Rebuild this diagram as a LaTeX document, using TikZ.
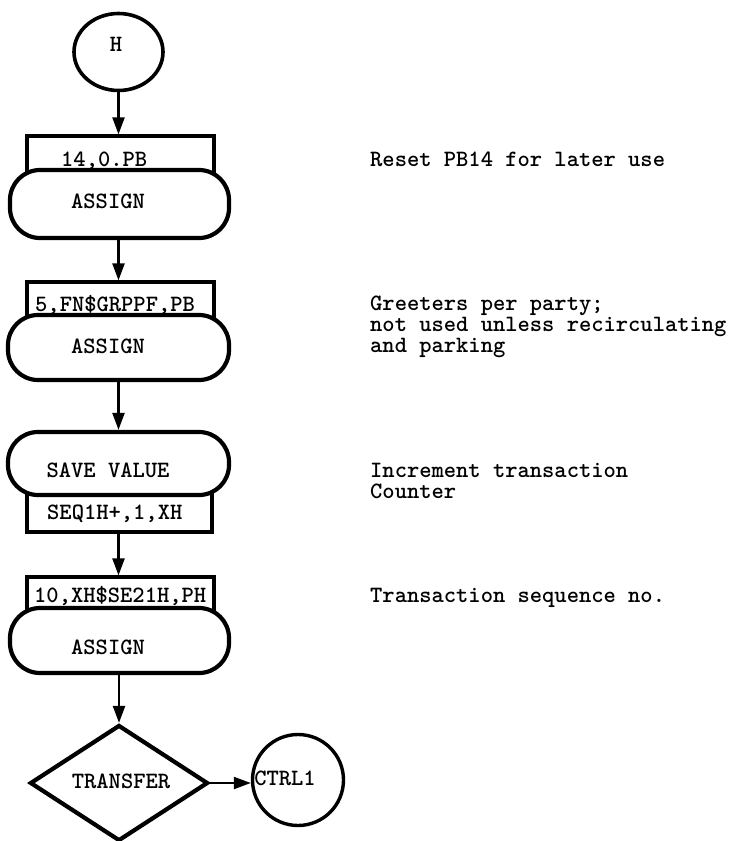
\documentclass[tikz,border=0pt]{standalone}
\usepackage{fontspec}
\usetikzlibrary{shapes.geometric,arrows.meta}
\newcommand{\notelines}[1]{\vtop{\lineskiplimit=-100pt\baselineskip=21pt\halign{##\hfil\cr#1\crcr}}}
\begin{document}
\begin{tikzpicture}[x=1pt,y=-1pt,
  shp/.style={draw=black,line width=3.2pt,fill=white,inner sep=0pt},
  parbox/.style={shp,rectangle},
  blockbox/.style={shp,rectangle,rounded corners=30pt,line width=4.2pt},
  conn/.style={line width=2.2pt,-{Triangle[length=17pt,width=12pt]}},
  tfont/.style={font=\ttfamily\bfseries\fontsize{23.4}{21}\selectfont},
  txt/.style={inner sep=0pt,text height=13pt,text depth=3pt,tfont},
  note/.style={inner sep=0pt,tfont,anchor=base west}]
\useasboundingbox (0,0) rectangle (737,841);

% start circle
\node[shp,ellipse,minimum width=89pt,minimum height=77pt,line width=3.6pt] (H) at (118.5,52) {};
\node[txt,anchor=base] (Ht) at (116,51) {H};

% ASSIGN 1
\node[parbox,minimum width=187pt,minimum height=54pt] (b1) at (120.5,163) {};
\node[txt,anchor=base west] (b1t) at (61,166) {14,0.PB};
\node[blockbox,minimum width=219pt,minimum height=68pt] (a1) at (119.5,204) {};
\node[txt,anchor=base] (a1t) at (108,208) {ASSIGN};

% ASSIGN 2
\node[parbox,minimum width=187pt,minimum height=53pt] (b2) at (120.5,308.5) {};
\node[txt,anchor=base west] (b2t) at (35,311) {5,FN\$GRPPF,PB};
\node[blockbox,minimum width=221pt,minimum height=65pt] (a2) at (118.5,347.5) {};
\node[txt,anchor=base] (a2t) at (108,353) {ASSIGN};

% SAVE VALUE
\node[parbox,minimum width=185pt,minimum height=52pt] (b3) at (119.5,506) {};
\node[txt,anchor=base west] (b3t) at (47,519) {SEQ1H+,1,XH};
\node[blockbox,minimum width=221pt,minimum height=63pt] (sv) at (118.5,463.5) {};
\node[txt,anchor=base] (svt) at (108,477) {SAVE VALUE};

% ASSIGN 3
\node[parbox,minimum width=187pt,minimum height=53pt] (b4) at (120.5,603.5) {};
\node[txt,anchor=base west] (b4t) at (34,602) {10,XH\$SE21H,PH};
\node[blockbox,minimum width=219pt,minimum height=65pt] (a3) at (119.5,640.5) {};
\node[txt,anchor=base] (a3t) at (108,654) {ASSIGN};

% TRANSFER
\node[shp,diamond,minimum width=178pt,minimum height=116pt,line width=4.2pt] (tr) at (119,783) {};
\node[txt,anchor=base] (trt) at (121,788) {TRANSFER};

% CTRL1
\node[shp,circle,line width=3.4pt,minimum size=91pt,fill=none] (c1) at (298,780) {};
\node[txt,anchor=base] (c1t) at (285,785) {CTRL1};

% connectors
\draw[conn] (H.south) -- (H.south |- b1.north);
\draw[conn] (a1.south -| H.south) -- (H.south |- b2.north);
\draw[conn] (a2.south -| H.south) -- (H.south |- sv.north);
\draw[conn] (b3.south -| H.south) -- (H.south |- b4.north);
\draw[conn] (a3.south -| tr.north) -- (tr.north);
\draw[conn] (tr.east) -- (c1.west |- tr.east);

% notes
\node[note] (n1) at (370,166) {Reset PB14 for later use};
\node[note] (n2) at (370,310) {\notelines{Greeters per party;\cr not used unless recirculating\cr and parking}};
\node[note] (n5) at (370,477) {\notelines{Increment transaction\cr Counter}};
\node[note] (n7) at (370,602) {Transaction sequence no.};
\end{tikzpicture}
\end{document}
